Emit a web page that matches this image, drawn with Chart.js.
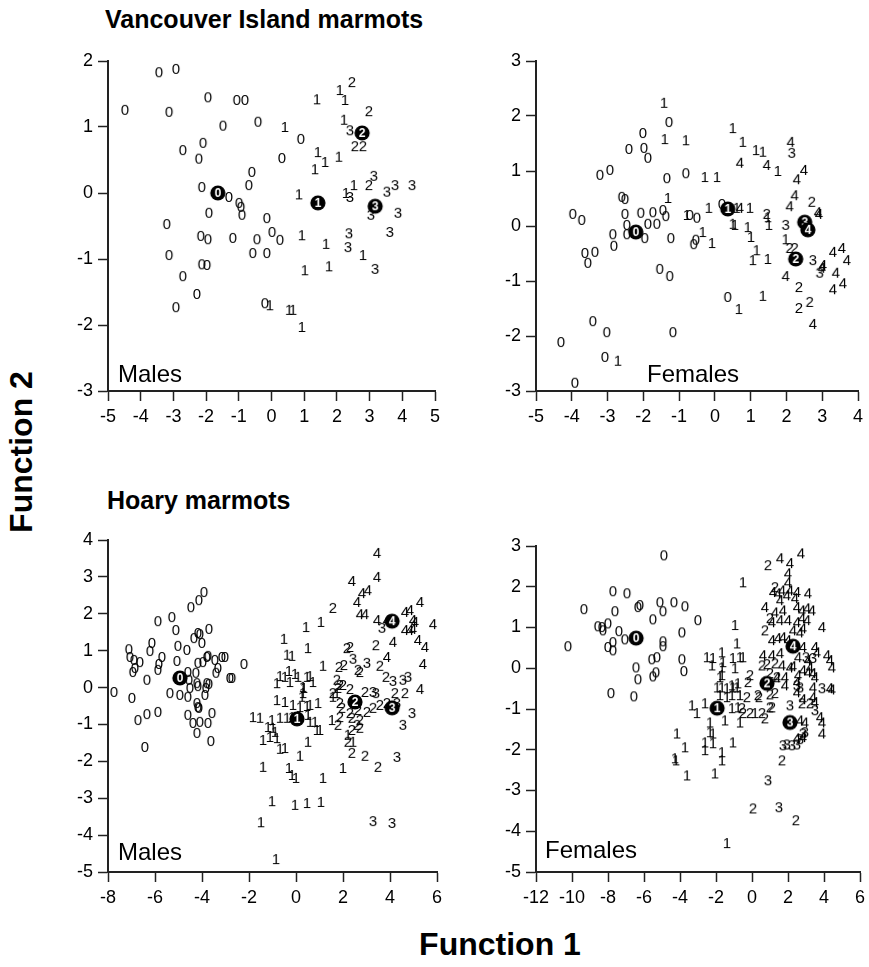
<!DOCTYPE html>
<html>
<head>
<meta charset="utf-8">
<script src="https://cdn.jsdelivr.net/npm/chart.js@4.4.1/dist/chart.umd.min.js"></script>
<style>
body { margin: 0; background: #fff; width: 869px; height: 967px; position: relative; overflow: hidden; font-family: 'Liberation Sans', Arial, sans-serif; }
canvas { position: absolute; }
.t { position: absolute; font-weight: bold; white-space: nowrap; line-height: 1; color: #000; }
</style>
</head>
<body>
<div class="t" style="left:105px;top:7px;font-size:25px">Vancouver Island marmots</div>
<div class="t" style="left:107px;top:488px;font-size:25px">Hoary marmots</div>
<div class="t" style="left:410px;top:928px;width:180px;text-align:center;font-size:32px">Function 1</div>
<div class="t" style="left:-69px;top:436px;width:180px;text-align:center;font-size:32px;transform:rotate(-90deg)">Function 2</div>
<script>
// Vancouver Island marmots, males (groups 0-3 + group centroids)
var vanMales0 = [[-3.44,1.83],[-2.92,1.88],[-4.48,1.26],[-3.13,1.23],[-1.94,1.45],[-1.06,1.41],[-0.81,1.41],[-1.48,1.02],[-0.41,1.08],[-2.09,0.76],[-2.71,0.65],[-2.22,0.52],[-0.60,0.32],[-0.69,0.12],[-2.13,0.09],[-1.30,-0.06],[-0.99,-0.15],[-0.93,-0.21],[-0.90,-0.33],[-1.91,-0.30],[-3.20,-0.47],[-0.14,-0.38],[-2.16,-0.65],[-1.94,-0.70],[-1.18,-0.68],[-0.44,-0.70],[-3.13,-0.94],[-0.57,-0.91],[-0.14,-0.91],[-2.13,-1.08],[-1.97,-1.09],[-2.71,-1.26],[-2.28,-1.53],[-2.92,-1.73],[-0.20,-1.67],[0.90,0.82],[0.32,0.53],[0.02,-0.59],[0.26,-0.71]];
var vanMales1 = [[0.41,1.0],[1.39,1.42],[2.09,1.56],[2.25,1.41],[2.22,1.11],[1.42,0.62],[1.64,0.47],[2.06,0.55],[1.33,0.36],[0.84,-0.02],[2.52,0.12],[2.28,0.0],[0.93,-0.64],[1.67,-0.77],[2.80,-0.94],[1.76,-1.11],[1.02,-1.17],[-0.05,-1.70],[0.54,-1.77],[0.66,-1.77],[0.93,-2.03]];
var vanMales2 = [[2.46,1.68],[2.98,1.24],[2.55,0.71],[2.80,0.71],[2.98,0.12]];
var vanMales3 = [[2.40,0.95],[2.40,-0.06],[3.13,0.26],[3.53,0.02],[3.78,0.12],[4.30,0.12],[3.04,-0.33],[3.87,-0.30],[3.62,-0.59],[2.37,-0.61],[2.34,-0.82],[3.17,-1.15]];
var vanMalesCentroids = [[-1.64,0.0],[1.42,-0.15],[2.77,0.91],[3.17,-0.20]];

// Vancouver Island marmots, females (groups 0-4)
var vanFemales0 = [[-1.28,1.89],[-2.01,1.69],[-2.40,1.40],[-1.98,1.42],[-1.87,1.24],[-3.21,0.93],[-2.93,1.02],[-1.34,0.87],[-0.81,0.96],[-2.60,0.53],[-2.51,0.49],[-3.97,0.22],[-3.72,0.11],[-2.51,0.22],[-2.07,0.24],[-1.73,0.25],[-1.45,0.29],[-1.37,0.18],[-0.70,0.20],[-0.50,0.15],[-2.46,0.02],[-2.46,-0.15],[-1.87,0.04],[-1.62,0.04],[-1.96,-0.22],[-1.23,-0.22],[-2.85,-0.15],[-2.82,-0.36],[-0.53,-0.25],[-0.59,-0.33],[-3.63,-0.49],[-3.55,-0.67],[-3.35,-0.47],[-1.54,-0.78],[-1.26,-0.91],[-3.41,-1.73],[-3.02,-1.93],[-4.30,-2.11],[-1.17,-1.93],[-3.07,-2.38],[-3.91,-2.85],[0.20,0.40],[0.36,-1.29]];
var vanFemales1 = [[-1.42,2.24],[-1.40,1.58],[-0.81,1.56],[-1.31,0.51],[-0.78,0.20],[-2.71,-2.45],[-0.28,0.89],[0.06,0.89],[0.50,1.78],[0.78,1.53],[1.15,1.38],[1.34,1.35],[1.76,1.0],[-0.17,0.33],[0.61,0.33],[0.98,0.33],[0.50,0.04],[0.56,0.02],[0.92,-0.02],[1.01,-0.20],[1.48,0.16],[1.51,0.02],[-0.34,-0.11],[-0.08,-0.31],[1.98,-0.24],[1.06,-0.62],[1.17,-0.44],[1.48,-0.60],[0.67,-1.51],[1.34,-1.27]];
var vanFemales2 = [[1.45,0.22],[2.71,0.44],[2.09,-0.40],[2.23,-0.40],[2.35,-1.11],[2.35,-1.49],[2.65,-1.38]];
var vanFemales3 = [[2.15,1.33],[1.98,0.02],[2.74,-0.62],[2.93,-0.85]];
var vanFemales4 = [[0.70,1.15],[1.45,1.11],[2.12,1.53],[2.49,1.02],[2.29,0.85],[2.23,0.56],[2.09,0.36],[2.88,0.25],[2.91,0.22],[0.70,0.33],[2.99,-0.76],[3.02,-0.71],[3.30,-0.47],[3.55,-0.40],[3.69,-0.62],[3.38,-0.85],[3.30,-1.15],[3.58,-1.04],[1.98,-0.91],[2.74,-1.78]];
var vanFemalesCentroids = [[-2.21,-0.11],[0.36,0.31],[2.26,-0.60],[2.51,0.07],[2.60,-0.07]];

// Hoary marmots, males
var hoaryMales0 = [[-3.91,2.59],[-4.13,2.37],[-4.47,2.18],[-5.87,1.80],[-5.28,1.91],[-5.11,1.56],[-4.17,1.48],[-4.09,1.45],[-3.70,1.59],[-4.34,1.34],[-4.00,1.21],[-6.13,1.21],[-6.21,0.99],[-7.11,1.04],[-7.06,0.83],[-6.89,0.75],[-6.64,0.69],[-6.85,0.53],[-6.94,0.42],[-5.02,1.13],[-4.64,1.02],[-5.70,0.83],[-5.83,0.64],[-5.87,0.48],[-5.06,0.72],[-3.79,0.83],[-3.74,0.86],[-3.45,0.75],[-3.15,0.83],[-3.02,0.83],[-4.17,0.67],[-3.96,0.69],[-2.21,0.64],[-3.32,0.53],[-3.40,0.40],[-4.26,0.40],[-4.60,0.42],[-6.34,0.21],[-2.81,0.26],[-2.72,0.26],[-4.55,0.21],[-4.21,0.12],[-4.17,0.04],[-3.79,0.12],[-3.70,0.10],[-4.51,-0.01],[-4.60,-0.25],[-3.83,-0.01],[-3.87,-0.20],[-5.36,-0.15],[-4.94,-0.20],[-7.74,-0.12],[-6.98,-0.28],[-4.21,-0.42],[-4.17,-0.53],[-4.13,-0.55],[-6.72,-0.88],[-6.34,-0.72],[-5.87,-0.66],[-4.60,-0.74],[-4.38,-0.96],[-4.09,-0.93],[-4.21,-1.23],[-3.57,-0.69],[-3.74,-0.96],[-3.62,-1.45],[-6.43,-1.61]];
var hoaryMales1 = [[0.43,1.64],[1.06,1.78],[-0.51,1.32],[0.51,1.07],[-0.38,0.89],[-0.17,0.86],[1.15,0.59],[-0.68,0.31],[-0.47,0.29],[-0.30,0.45],[-0.04,0.37],[0.09,0.29],[0.47,0.29],[0.60,0.31],[-0.81,0.12],[-0.26,0.15],[0.30,0.02],[0.34,-0.01],[0.72,0.15],[0.30,-0.15],[0.26,-0.25],[-0.81,-0.34],[-0.47,-0.39],[-0.13,-0.47],[0.17,-0.53],[0.47,-0.50],[0.60,-0.47],[0.94,-0.42],[1.57,-0.25],[1.74,-0.15],[-1.83,-0.80],[-1.53,-0.82],[-1.02,-0.88],[-0.68,-0.82],[-0.38,-0.82],[-0.17,-0.80],[0.51,-0.74],[0.60,-0.93],[0.81,-0.93],[0.89,-1.15],[1.02,-1.15],[-1.19,-1.07],[-0.98,-1.09],[-0.89,-1.20],[-1.40,-1.42],[-1.11,-1.34],[-0.81,-1.37],[-0.68,-1.66],[-0.47,-1.64],[0.51,-1.47],[0.17,-1.85],[1.53,-0.88],[2.21,-1.28],[2.43,-1.47],[2.00,-2.18],[-1.40,-2.15],[-0.30,-2.18],[-0.17,-2.37],[0.00,-2.45],[1.15,-2.45],[-1.02,-3.08],[-0.04,-3.18],[0.47,-3.13],[1.06,-3.10],[-1.49,-3.65],[-0.85,-4.65]];
var hoaryMales2 = [[1.57,2.16],[3.40,1.15],[2.17,1.07],[2.30,1.10],[2.64,0.48],[2.72,0.42],[1.83,0.56],[2.04,0.61],[3.57,0.59],[3.83,0.29],[1.74,0.21],[1.87,0.07],[1.79,-0.01],[2.00,0.07],[2.30,-0.04],[2.94,-0.12],[4.21,-0.15],[4.64,-0.15],[1.57,-0.15],[1.87,-0.42],[1.96,-0.55],[2.30,-0.69],[2.64,-0.61],[3.02,-0.66],[3.28,-0.55],[3.57,-0.47],[3.87,-0.42],[1.87,-0.80],[2.38,-0.82],[2.72,-0.88],[1.79,-1.01],[2.60,-1.01],[2.38,-1.15],[2.72,-1.09],[2.21,-1.47],[2.38,-1.77],[2.94,-1.85],[3.49,-2.15]];
var hoaryMales3 = [[3.66,1.62],[2.43,0.78],[3.02,0.67],[4.13,0.18],[4.55,0.21],[4.77,0.29],[3.28,-0.12],[3.40,-0.15],[4.30,-0.42],[4.94,-0.69],[4.55,-1.01],[4.30,-1.88],[3.28,-3.62],[4.09,-3.67]];
var hoaryMales4 = [[3.45,3.65],[2.38,2.89],[3.45,3.00],[2.81,2.56],[3.06,2.64],[2.60,2.32],[2.72,1.99],[2.94,1.99],[3.45,1.83],[3.87,1.83],[4.64,2.05],[4.85,2.10],[5.28,2.32],[4.98,1.83],[5.06,1.78],[4.64,1.56],[4.85,1.56],[4.98,1.59],[5.83,1.72],[4.13,1.24],[5.19,1.29],[5.49,1.10],[3.87,0.83],[5.40,0.64],[5.28,-0.04]];
var hoaryMalesCentroids = [[-4.94,0.26],[0.04,-0.85],[2.51,-0.39],[4.09,-0.55],[4.09,1.80]];

// Hoary marmots, females
var hoaryFemales0 = [[-4.89,2.77],[-7.72,1.89],[-6.94,1.84],[-9.33,1.45],[-7.61,1.40],[-6.33,1.50],[-6.22,1.55],[-5.11,1.62],[-4.94,1.40],[-4.33,1.62],[-3.72,1.52],[-5.50,1.20],[-3.00,1.18],[-8.56,1.03],[-8.28,0.93],[-8.00,1.10],[-8.33,1.01],[-7.39,0.91],[-7.06,0.71],[-3.89,0.88],[-4.94,0.66],[-4.94,0.54],[-10.22,0.54],[-8.00,0.52],[-7.72,0.44],[-7.72,0.64],[-5.56,0.22],[-5.28,0.27],[-3.89,0.22],[-6.44,0.02],[-6.33,-0.27],[-5.50,-0.20],[-5.33,-0.10],[-3.78,-0.07],[-7.83,-0.61],[-6.56,-0.69]];
var hoaryFemales1 = [[-2.50,0.27],[-2.22,0.07],[-2.17,0.25],[-1.67,0.39],[-1.61,0.15],[-1.67,0.02],[-1.78,-0.22],[-1.67,-0.17],[-1.94,-0.47],[-1.67,-0.47],[-1.78,-0.66],[-1.39,-0.49],[-3.33,-0.91],[-3.06,-1.10],[-2.61,-0.86],[-2.33,-1.33],[-1.50,-1.28],[-4.17,-1.60],[-2.33,-1.57],[-2.17,-1.60],[-3.72,-1.94],[-2.61,-1.82],[-2.61,-2.01],[-2.17,-1.84],[-1.67,-2.06],[-1.67,-2.26],[-4.28,-2.21],[-4.22,-2.26],[-3.61,-2.63],[-2.06,-2.58],[-1.39,-4.29],[-0.50,2.11],[-0.94,1.06],[-0.83,0.61],[-1.06,0.25],[-0.67,0.27],[-0.50,0.27],[-0.94,0.00],[-1.11,-0.42],[-1.06,-0.47],[-0.83,-0.47],[-0.78,-0.37],[-1.39,-0.71],[-1.11,-0.66],[-0.67,-0.66],[-1.11,-0.98],[-0.78,-0.96],[0.17,-1.10],[-0.67,-1.33],[-1.06,-1.82]];
var hoaryFemales2 = [[0.89,2.53],[1.28,1.99],[0.72,0.93],[1.00,1.23],[0.56,0.07],[0.83,0.10],[1.28,0.12],[-0.11,-0.17],[-0.22,-0.34],[1.00,-0.12],[1.39,-0.22],[0.33,-0.66],[0.39,-0.71],[1.00,-0.64],[1.28,-0.61],[-0.28,-0.71],[-0.56,-0.98],[-0.50,-1.10],[-0.11,-1.10],[0.56,-1.10],[0.72,-1.23],[1.00,-0.96],[1.11,-0.96],[2.78,-0.86],[3.22,-0.86],[1.67,-2.26],[0.06,-3.44],[2.44,-3.73]];
var hoaryFemales3 = [[2.11,-0.91],[3.50,-1.03],[2.83,-1.60],[1.72,-1.89],[1.94,-1.87],[2.22,-1.89],[2.50,-1.87],[2.67,-1.74],[2.94,-1.57],[3.00,0.27],[3.39,0.25],[2.50,-0.42],[2.67,-0.47],[3.89,-0.49],[0.89,-2.75],[1.50,-3.41]];
var hoaryFemales4 = [[1.56,2.70],[2.11,2.58],[2.72,2.82],[2.00,2.33],[2.00,2.11],[2.50,1.87],[1.17,1.87],[1.44,1.84],[1.67,1.91],[1.94,1.79],[2.11,1.91],[2.39,1.72],[1.56,1.67],[3.11,1.84],[0.72,1.50],[1.28,1.37],[1.72,1.42],[2.50,1.50],[2.78,1.42],[3.06,1.47],[3.33,1.42],[3.89,1.01],[1.11,1.13],[1.56,1.18],[2.00,1.18],[2.50,1.13],[2.78,1.23],[3.06,1.18],[2.28,0.93],[2.67,0.88],[2.83,0.98],[1.11,0.69],[1.44,0.74],[1.72,0.76],[2.00,0.69],[2.83,0.52],[3.50,0.52],[3.61,0.39],[4.17,0.32],[4.33,0.20],[4.44,0.02],[0.61,0.32],[1.11,0.32],[1.56,0.37],[2.56,0.27],[3.11,0.20],[3.22,0.02],[1.67,0.07],[2.11,0.02],[2.28,0.05],[2.83,-0.05],[3.11,-0.10],[3.39,-0.12],[3.50,-0.22],[1.39,-0.22],[1.83,-0.22],[1.83,-0.42],[2.50,-0.34],[2.56,-0.17],[3.39,-0.47],[4.44,-0.52],[4.33,-0.49],[2.50,-0.59],[2.83,-0.76],[3.39,-0.71],[3.50,-0.83],[2.67,-1.28],[2.94,-1.33],[3.78,-1.20],[3.89,-1.33],[3.89,-1.60],[2.50,-1.72],[2.83,-1.69]];
var hoaryFemalesCentroids = [[-6.44,0.74],[-1.94,-0.98],[0.83,-0.37],[2.11,-1.33],[2.28,0.54]];

var FONT = '"Liberation Sans", Arial, sans-serif';

// digit glyphs used as point markers
function digitIcon(d) {
    var c = document.createElement('canvas');
    c.width = 14; c.height = 18;
    var x = c.getContext('2d');
    x.font = '15px ' + FONT;
    x.fillStyle = '#000';
    x.textAlign = 'center';
    x.textBaseline = 'middle';
    x.fillText(String(d), 7, 9.5);
    return c;
}
function centroidIcon(d) {
    var c = document.createElement('canvas');
    c.width = 18; c.height = 18;
    var x = c.getContext('2d');
    x.beginPath();
    x.arc(9, 9, 7.6, 0, Math.PI * 2);
    x.fillStyle = '#000';
    x.fill();
    x.font = 'bold 12px ' + FONT;
    x.fillStyle = '#fff';
    x.textAlign = 'center';
    x.textBaseline = 'middle';
    x.fillText(String(d), 9, 9.5);
    return c;
}
var digits = [0, 1, 2, 3, 4].map(digitIcon);
var centIcons = [0, 1, 2, 3, 4].map(centroidIcon);

var L = 80, T = 25, R = 25, B = 50;

function axis(min, max, step, pos) {
    return {
        type: 'linear', position: pos, min: min, max: max,
        ticks: { stepSize: step, autoSkip: false, maxRotation: 0, padding: 5, color: '#000',
                 font: { family: FONT, size: 18 }, callback: function (v) { return String(v); } },
        grid: { drawOnChartArea: false, drawTicks: true, tickLength: 10, tickColor: '#222', tickWidth: 1.5 },
        border: { display: true, color: '#222', width: 2 },
        afterFit: function (s) { if (pos === 'left') s.width = L; else s.height = B; }
    };
}

function makePanel(box, xr, yr, groups, cents, label, ldx, ldy) {
    var cv = document.createElement('canvas');
    cv.width = box.r - box.l + L + R;
    cv.height = box.b - box.t + T + B;
    cv.style.left = (box.l - L) + 'px';
    cv.style.top = (box.t - T) + 'px';
    document.body.appendChild(cv);

    var toPts = function (arr) { return arr.map(function (p) { return { x: p[0], y: p[1] }; }); };
    var datasets = groups.map(function (g, i) {
        return { data: toPts(g), pointStyle: digits[i], pointRadius: 5, clip: false, order: 1 };
    });
    datasets.push({ data: toPts(cents), pointStyle: cents.map(function (c, i) { return centIcons[i]; }),
                    pointRadius: 8, clip: false, order: 0 });

    new Chart(cv, {
        type: 'scatter',
        data: { datasets: datasets },
        options: {
            responsive: false, animation: false, events: [],
            layout: { padding: { left: 0, top: T, right: R, bottom: 0 } },
            plugins: { legend: { display: false }, tooltip: { enabled: false } },
            scales: { x: axis(xr[0], xr[1], xr[2], 'bottom'), y: axis(yr[0], yr[1], yr[2], 'left') }
        },
        plugins: [{
            id: 'panelLabel',
            afterDraw: function (c) {
                var x = c.ctx;
                x.save();
                x.font = '24px ' + FONT;
                x.fillStyle = '#000';
                x.textBaseline = 'alphabetic';
                x.fillText(label, c.chartArea.left + ldx, c.chartArea.bottom - ldy);
                x.restore();
            }
        }]
    });
}

makePanel({ l: 108, t: 61, r: 435, b: 391 }, [-5, 5, 1], [-3, 2, 1],
    [vanMales0, vanMales1, vanMales2, vanMales3], vanMalesCentroids, 'Males', 10, 9);
makePanel({ l: 536, t: 61, r: 858, b: 391 }, [-5, 4, 1], [-3, 3, 1],
    [vanFemales0, vanFemales1, vanFemales2, vanFemales3, vanFemales4], vanFemalesCentroids, 'Females', 111, 9);
makePanel({ l: 108, t: 540, r: 437, b: 872 }, [-8, 6, 2], [-5, 4, 1],
    [hoaryMales0, hoaryMales1, hoaryMales2, hoaryMales3, hoaryMales4], hoaryMalesCentroids, 'Males', 10, 12);
makePanel({ l: 536, t: 546, r: 860, b: 872 }, [-12, 6, 2], [-5, 3, 1],
    [hoaryFemales0, hoaryFemales1, hoaryFemales2, hoaryFemales3, hoaryFemales4], hoaryFemalesCentroids, 'Females', 9, 14);
</script>
</body>
</html>
